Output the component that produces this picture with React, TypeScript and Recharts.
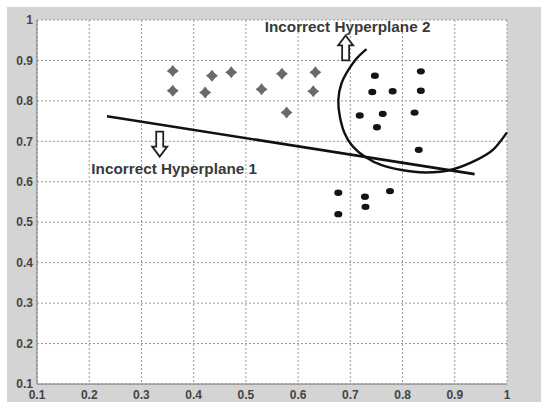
import React from "react";
import { CartesianGrid, Scatter, ScatterChart, XAxis, YAxis } from "recharts";

// class A samples (grey crosses)
const crossX = [0.36, 0.36, 0.435, 0.422, 0.472, 0.53, 0.569, 0.578, 0.633, 0.629];
const crossY = [0.874, 0.825, 0.862, 0.821, 0.871, 0.829, 0.867, 0.771, 0.871, 0.824];

// class B samples (black dots)
const dotX = [0.747, 0.835, 0.742, 0.781, 0.835, 0.718, 0.762, 0.823, 0.751, 0.831, 0.677, 0.728, 0.776, 0.729, 0.677];
const dotY = [0.862, 0.873, 0.822, 0.824, 0.825, 0.764, 0.768, 0.771, 0.735, 0.679, 0.573, 0.563, 0.577, 0.538, 0.52];

// straight separator
const plane1X = [0.234, 0.938];
const plane1Y = [0.762, 0.619];

// curved separator, traced along the arc
const plane2X = [0.731, 0.712, 0.696, 0.683, 0.677, 0.68, 0.689, 0.705, 0.728, 0.76, 0.798, 0.843, 0.897, 0.942, 0.974, 1.0];
const plane2Y = [0.928, 0.905, 0.876, 0.843, 0.802, 0.761, 0.72, 0.687, 0.662, 0.641, 0.629, 0.623, 0.631, 0.654, 0.68, 0.722];

const annotations = [
  { x: 0.204, y: 0.632, text: "Incorrect Hyperplane 1" },
  { x: 0.536, y: 0.983, text: "Incorrect Hyperplane 2" },
];
const arrows = [
  { x: 0.335, y: 0.693, dir: "down" },
  { x: 0.691, y: 0.931, dir: "up" },
];

const ticks = [0.1, 0.2, 0.3, 0.4, 0.5, 0.6, 0.7, 0.8, 0.9, 1];

const zip = (xs: number[], ys: number[]) => xs.map((x, i) => ({ x, y: ys[i] }));

const FONT = "'Liberation Sans', Arial, sans-serif";

const CrossShape = (p: any) => {
  const { cx, cy } = p;
  const s = 6;
  const k = 2.3;
  const d = `M${cx},${cy - s} Q${cx + k},${cy - k} ${cx + s},${cy} Q${cx + k},${cy + k} ${cx},${cy + s} Q${cx - k},${cy + k} ${cx - s},${cy} Q${cx - k},${cy - k} ${cx},${cy - s} Z`;
  return <path d={d} fill="#6a6a6a" />;
};

const DotShape = (p: any) => <ellipse cx={p.cx} cy={p.cy} rx={4} ry={3.2} fill="#141414" />;

const Empty = () => <g />;

const LabelShape = (p: any) => (
  <text
    x={p.cx}
    y={p.cy}
    dominantBaseline="central"
    fontFamily={FONT}
    fontWeight="bold"
    fontSize={15.3}
    fill="#3a3a3a"
  >
    {p.payload.text}
  </text>
);

const ArrowShape = (p: any) => {
  const { cx, cy } = p;
  const dir = p.payload.dir === "up" ? -1 : 1;
  const half = 12.5;
  const stem = 3.5;
  const head = 7.5;
  const headLen = 10;
  const top = cy - dir * half;
  const neck = cy + dir * (half - headLen);
  const tip = cy + dir * half;
  const d = `M${cx - stem},${top} L${cx + stem},${top} L${cx + stem},${neck} L${cx + head},${neck} L${cx},${tip} L${cx - head},${neck} L${cx - stem},${neck} Z`;
  return <path d={d} fill="#fff" stroke="#222" strokeWidth={1.8} strokeLinejoin="miter" />;
};

const tickStyle = { fontFamily: FONT, fontWeight: "bold" as const, fontSize: 12, fill: "#444" };

export default function App() {
  return (
    <div style={{ position: "fixed", left: 0, top: 0, width: 541, height: 402, background: "#fff" }}>
      <div style={{ position: "absolute", left: 7, top: 7, right: 0, bottom: 0, background: "#d4d4d4" }} />
      <div style={{ position: "absolute", left: 0, top: 0 }}>
        <ScatterChart width={541} height={402} margin={{ top: 20, right: 34, bottom: 0, left: 0 }}>
          <CartesianGrid fill="#fff" stroke="#9a9a9a" strokeDasharray="2 2" />
          <XAxis
            type="number"
            dataKey="x"
            domain={[0.1, 1]}
            ticks={ticks}
            height={18}
            tickSize={0}
            tickMargin={6}
            tickLine={false}
            axisLine={{ stroke: "#7a7a7a" }}
            tick={tickStyle}
            interval={0}
          />
          <YAxis
            type="number"
            dataKey="y"
            domain={[0.1, 1]}
            ticks={ticks}
            width={37}
            tickSize={0}
            tickMargin={4}
            tickLine={false}
            axisLine={{ stroke: "#7a7a7a" }}
            tick={tickStyle}
            interval={0}
          />
          <Scatter data={zip(crossX, crossY)} shape={CrossShape} isAnimationActive={false} />
          <Scatter data={zip(dotX, dotY)} shape={DotShape} isAnimationActive={false} />
          <Scatter
            data={zip(plane1X, plane1Y)}
            shape={Empty}
            line={{ stroke: "#111", strokeWidth: 2.6 }}
            isAnimationActive={false}
          />
          <Scatter
            data={zip(plane2X, plane2Y)}
            shape={Empty}
            line={{ stroke: "#111", strokeWidth: 2.4, fill: "none" }}
            lineJointType="natural"
            isAnimationActive={false}
          />
          <Scatter data={arrows} shape={ArrowShape} isAnimationActive={false} />
          <Scatter data={annotations} shape={LabelShape} isAnimationActive={false} />
        </ScatterChart>
      </div>
    </div>
  );
}
